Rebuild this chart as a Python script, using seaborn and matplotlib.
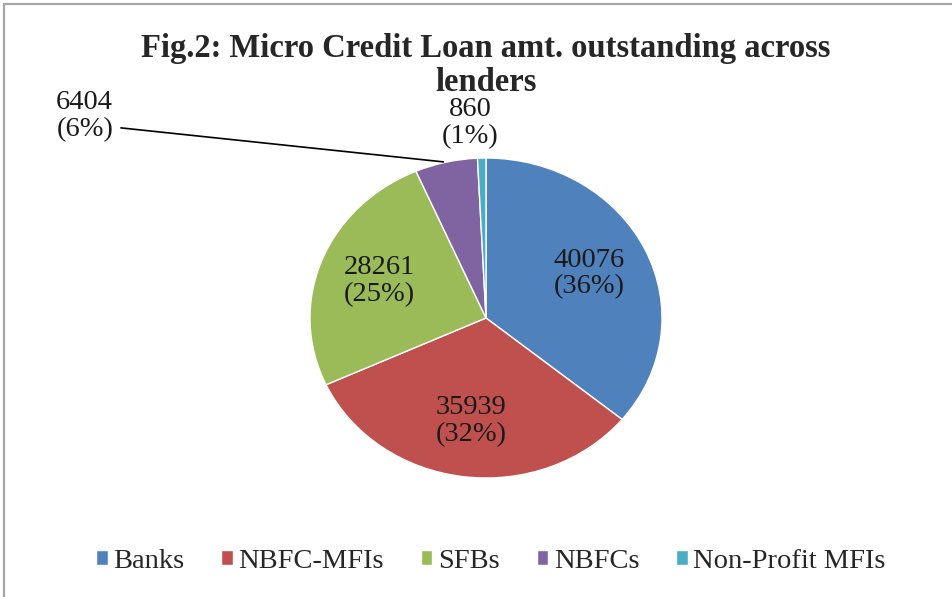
import numpy as np
import seaborn as sns
import matplotlib.pyplot as plt
from matplotlib.lines import Line2D

# values (amount outstanding)
lenders = ["Banks", "NBFC-MFIs", "SFBs", "NBFCs", "Non-Profit MFIs"]
amounts = [40076, 35939, 28261, 6404, 860]
colors = ["#4F81BD", "#C0504D", "#9BBB59", "#8064A2", "#4BACC6"]

sns.set_style("white")
plt.rcParams["font.family"] = ["Liberation Serif", "DejaVu Serif"]

fig = plt.figure(figsize=(9.53, 5.97), dpi=100)
ax = fig.add_axes([0, 0, 1, 1])

total = sum(amounts)
labels = [f"{v}\n({v / total * 100:.0f}%)" for v in amounts]

wedges, texts = ax.pie(amounts, colors=colors, labels=labels, startangle=90,
                       counterclock=False, labeldistance=0.65,
                       wedgeprops=dict(linewidth=1.0, edgecolor="white"),
                       textprops=dict(fontsize=20.5, color="#1a1a1a",
                                      linespacing=1.1))
for t in texts:
    t.set_ha("center")
    t.set_va("center")

# stretch the pie a bit wider than tall, like the original picture
ax.set_aspect("auto")
ax.set_xlim(-486 / 176, (953 - 486) / 176)
ax.set_ylim(-279 / 160, 318 / 160)
ax.axis("off")

# small slices: labels outside
ang = np.deg2rad((wedges[3].theta1 + wedges[3].theta2) / 2)
texts[3].set_position((-2.28, 1.26))
ax.annotate("", xy=(np.cos(ang), np.sin(ang)), xytext=(-2.09, 1.19),
            arrowprops=dict(arrowstyle="-", color="black", lw=1.2))
texts[4].set_position((-0.09, 1.22))

fig.text(486 / 953, 1 - 33 / 597,
         "Fig.2: Micro Credit Loan amt. outstanding across\nlenders",
         ha="center", va="top", fontsize=23.5, fontweight="bold",
         linespacing=1.12)

fig.legend(wedges, lenders, loc="center", bbox_to_anchor=(491 / 953, 1 - 561 / 597),
           ncol=5, frameon=False, fontsize=20.5, handlelength=0.4,
           handleheight=0.4, handletextpad=0.2, columnspacing=1.3)

# chart frame (left and top edges visible)
fig.add_artist(Line2D([4 / 953, 4 / 953], [0, 1 - 4 / 597], color="#a6a6a6", lw=1.6))
fig.add_artist(Line2D([4 / 953, 1], [1 - 4 / 597, 1 - 4 / 597], color="#a6a6a6", lw=1.6))

fig.savefig("out.png", dpi=100)
